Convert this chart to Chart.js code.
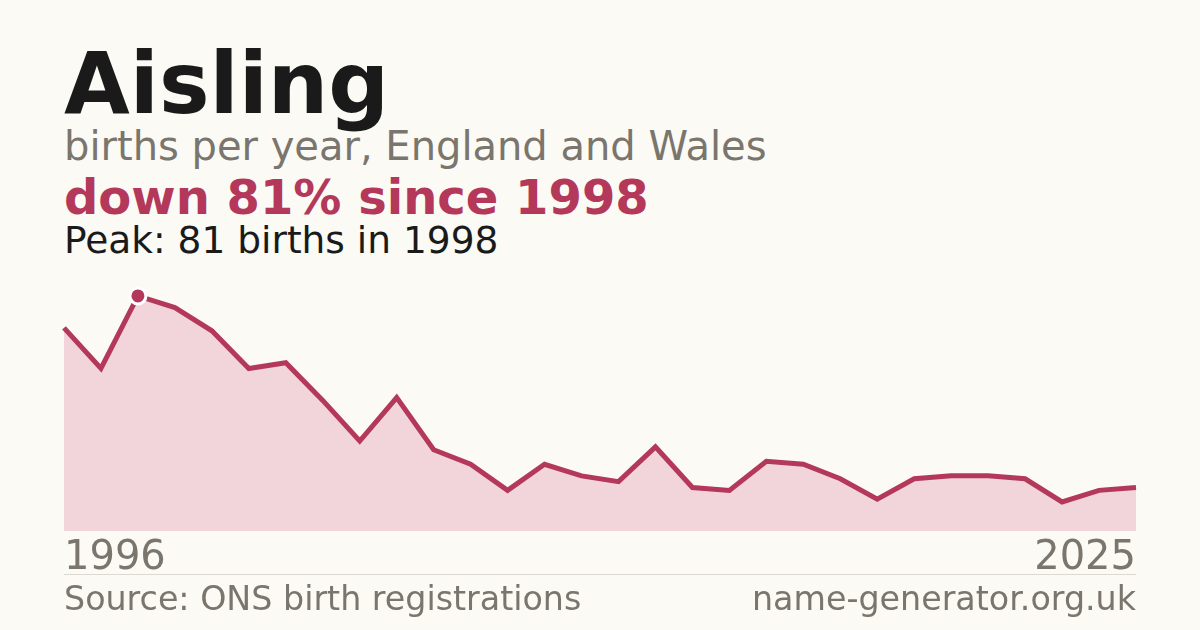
<!DOCTYPE html>
<html>
<head>
<meta charset="utf-8">
<script src="https://cdn.jsdelivr.net/npm/chart.js@4"></script>
<style>
  html, body { margin: 0; padding: 0; }
  body { width: 1200px; height: 630px; background: #fbfaf5; position: relative; overflow: hidden;
         font-family: "DejaVu Sans", sans-serif; }
  .t { position: absolute; left: 64px; line-height: 1; white-space: nowrap; }
  #name { top: 41px; font-size: 85px; font-weight: bold; color: #1a1a1a; }
  #sub { top: 126px; font-size: 40px; color: #7a756d; }
  #change { top: 173px; font-size: 48px; font-weight: bold; color: #b3385a; }
  #peak { top: 222px; font-size: 37.5px; color: #1a1a1a; }
  #rule { position: absolute; left: 64px; top: 574px; width: 1072px; height: 1px; background: #dcd9d2; }
  .foot { position: absolute; top: 582px; font-size: 33.3px; line-height: 1; color: #7a756d; white-space: nowrap; }
  #src { left: 64px; }
  #site { right: 64px; }
  #wrap { position: absolute; left: 0; top: 270px; width: 1200px; height: 317px; }
</style>
</head>
<body>
<div class="t" id="name">Aisling</div>
<div class="t" id="sub">births per year, England and Wales</div>
<div class="t" id="change">down 81% since 1998</div>
<div class="t" id="peak">Peak: 81 births in 1998</div>
<div id="wrap"><canvas id="chart"></canvas></div>
<div id="rule"></div>
<div class="foot" id="src">Source: ONS birth registrations</div>
<div class="foot" id="site">name-generator.org.uk</div>
<script>
var years = [1996, 1997, 1998, 1999, 2000, 2001, 2002, 2003, 2004, 2005,
             2006, 2007, 2008, 2009, 2010, 2011, 2012, 2013, 2014, 2015,
             2016, 2017, 2018, 2019, 2020, 2021, 2022, 2023, 2024, 2025];
var births = [70, 56, 81, 77, 69, 56, 58, 45, 31, 46,
              28, 23, 14, 23, 19, 17, 29, 15, 14, 24,
              23, 18, 11, 18, 19, 19, 18, 10, 14, 15];

var red = "#b3385a";
var peakIdx = births.indexOf(Math.max.apply(null, births));

new Chart("chart", {
  type: "line",
  data: {
    labels: years,
    datasets: [{
      data: births,
      borderColor: red,
      borderWidth: 5,
      backgroundColor: "#f1d5db",
      fill: "origin",
      tension: 0,
      clip: false,
      pointRadius: function(ctx) { return ctx.dataIndex === peakIdx ? 8 : 0; },
      pointHoverRadius: 0,
      pointBackgroundColor: red,
      pointBorderColor: "#ffffff",
      pointBorderWidth: 3
    }]
  },
  options: {
    responsive: true,
    maintainAspectRatio: false,
    animation: false,
    events: [],
    layout: { padding: { left: 64, right: 64, top: 10, bottom: 0 } },
    plugins: { legend: { display: false }, tooltip: { enabled: false } },
    scales: {
      x: {
        offset: false,
        grid: { display: false, drawTicks: false },
        border: { display: false },
        ticks: {
          autoSkip: false,
          maxRotation: 0,
          align: "inner",
          padding: 4,
          color: "#7a756d",
          font: { family: "DejaVu Sans", size: 40 },
          callback: function(v, i) {
            return (i === 0 || i === years.length - 1) ? years[i] : "";
          }
        }
      },
      y: {
        display: false,
        min: 0,
        max: 86.5
      }
    }
  }
});
</script>
</body>
</html>
